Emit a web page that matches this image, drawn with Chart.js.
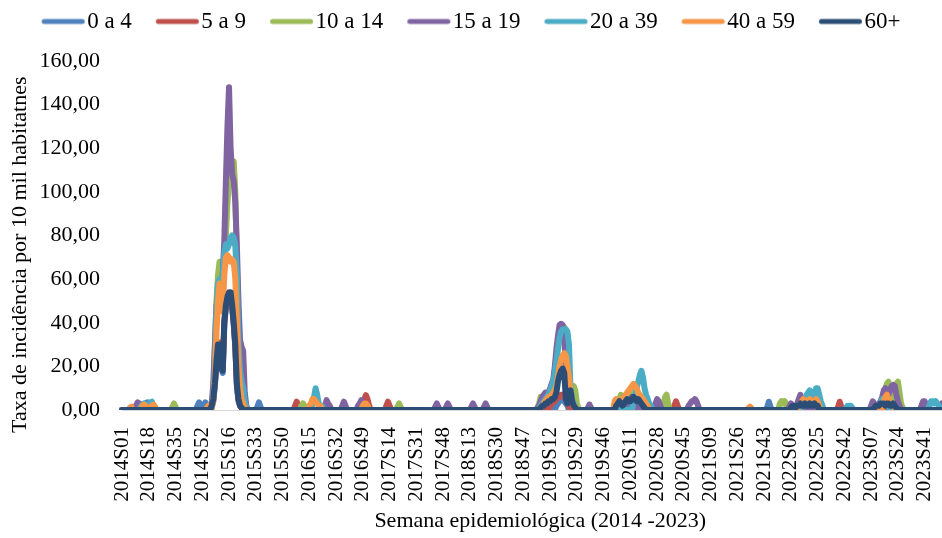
<!DOCTYPE html>
<html lang="pt">
<head>
<meta charset="utf-8">
<script src="https://cdn.jsdelivr.net/npm/chart.js@4.4.1/dist/chart.umd.min.js"></script>
<style>
  html, body { margin: 0; padding: 0; background: #fff; }
  #grafico { display: block; }
</style>
</head>
<body>
<canvas id="grafico" width="942" height="538"></canvas>
<script>
// anos e número de semanas epidemiológicas de cada ano
const anos = [2014, 2015, 2016, 2017, 2018, 2019, 2020, 2021, 2022, 2023];
const semanasPorAno = [53, 52, 52, 52, 52, 52, 53, 52, 52, 52];

// rótulos das faixas etárias (legenda)
const faixas = ['0 a 4', '5 a 9', '10 a 14', '15 a 19', '20 a 39', '40 a 59', '60+'];
const cores = ['#4F81BD', '#C0504D', '#9BBB59', '#8064A2', '#4BACC6', '#F79646', '#2C4D75'];

// taxas: [semana inicial, valores semanais consecutivos]; demais semanas = 0
const taxa0a4 = [
  ['2014S09', [1, 2, 2, 1]],
  ['2014S15', [2, 3, 3.5, 2]],
  ['2014S49', [2, 3.5, 2, 1, 2, 3.5, 2]],
  ['2015S05', [1, 4, 11, 21, 29, 29, 19, 17, 39, 47, 51, 53, 53, 47, 39, 29, 11, 4, 2, 1]],
  ['2015S34', [1.5, 3.5, 1.5]],
  ['2019S16', [2, 3, 4, 5, 5, 4, 3, 2]],
  ['2020S07', [1, 2, 3, 1]],
  ['2021S45', [1.5, 3.8, 1.5]],
];
const taxa5a9 = [
  ['2014S15', [1.5]],
  ['2015S05', [2, 5, 13, 23, 31, 31, 21, 19, 41, 48, 52, 53, 53, 47, 40, 29, 12, 5, 2, 1]],
  ['2016S06', [2, 3.8, 2]],
  ['2016S49', [3, 5, 6.8, 5, 2]],
  ['2017S12', [2, 3.8, 2]],
  ['2019S12', [2, 3, 4, 4, 5, 6, 6, 7, 7, 6, 5, 3, 2]],
  ['2020S39', [2, 4, 2]],
  ['2022S38', [1.5, 3.8, 1.5]],
];
const taxa10a14 = [
  ['2014S33', [1.5, 3, 1.5]],
  ['2015S06', [8, 28, 50, 62, 68, 68, 62, 66, 80, 95, 105, 108, 112, 114, 100, 65, 38, 22, 12, 5, 2]],
  ['2016S10', [2, 3, 2]],
  ['2017S19', [1.5, 3, 1.5]],
  ['2019S04', [1, 3, 6, 5, 5, 6, 5, 7, 8, 10, 12, 17, 24, 30, 34, 36, 38, 38, 33, 18, 11, 9, 7, 11, 9, 3, 1]],
  ['2020S04', [5, 7, 5, 4, 5, 6, 7, 8, 10, 9, 7, 5, 4, 3, 2]],
  ['2020S32', [2, 6, 7, 3]],
  ['2022S01', [3, 4, 3, 4, 3]],
  ['2023S13', [2, 3, 5, 9, 12, 13, 10, 6, 5, 8, 12, 13, 8, 3, 1]],
];
const taxa15a19 = [
  ['2014S10', [2, 3.5, 3, 2]],
  ['2014S19', [2, 3, 2]],
  ['2015S05', [3, 12, 30, 48, 50, 55, 55, 62, 78, 105, 130, 148, 120, 108, 105, 95, 75, 50, 32, 29, 27, 8, 2]],
  ['2016S25', [2, 4.5, 3, 2]],
  ['2016S36', [2, 3.8, 2]],
  ['2016S46', [2, 3, 4.5, 3]],
  ['2017S43', [1.5, 3, 1.5]],
  ['2017S50', [1.5, 3, 1.5]],
  ['2018S14', [1.5, 3, 1.5]],
  ['2018S22', [1.5, 3, 1.5]],
  ['2019S04', [1, 2, 4, 6, 7, 8, 7, 8, 10, 12, 14, 20, 28, 34, 39, 39.5, 39, 32, 22, 14, 8, 5, 3, 2, 1]],
  ['2019S36', [1, 2.5, 1]],
  ['2020S06', [3, 6, 4, 3, 4, 5, 6, 5, 4, 3]],
  ['2020S27', [3, 5, 4, 2]],
  ['2020S48', [2, 3, 4, 4, 5, 4, 2]],
  ['2022S07', [1.5, 3, 1.5]],
  ['2022S12', [3, 5, 7, 4, 2]],
  ['2023S07', [2, 4, 3, 2, 2, 3, 4, 6, 9, 10, 8, 7, 9, 11, 11.5, 11, 7, 4, 2]],
  ['2023S39', [2, 4, 4, 2]],
  ['2023S51', [2, 3]],
];
const taxa20a39 = [
  ['2014S13', [1.5, 2.5, 3, 2]],
  ['2014S18', [2, 3.5, 3.8, 2]],
  ['2015S05', [2, 6, 20, 45, 58, 60, 58, 62, 72, 76, 74, 76, 79, 80, 79, 75, 62, 30, 18, 13, 10, 4, 1]],
  ['2016S17', [3, 6, 10, 7, 3, 2, 2]],
  ['2019S06', [2, 3, 4, 5, 6, 7, 9, 11, 13, 17, 22, 28, 33, 36, 37, 37, 37, 36, 30, 10, 5, 3, 1]],
  ['2020S13', [4, 6, 10, 13, 16, 18, 15, 10, 7, 5, 3, 2]],
  ['2022S15', [2, 3, 5, 7, 8, 9, 7, 6, 8, 10, 10, 7, 4, 2]],
  ['2022S43', [1, 2, 2, 2, 1]],
  ['2023S12', [2, 3, 5, 5, 4, 3, 2]],
  ['2023S44', [2, 4, 4, 3, 4, 3, 2]],
];
const taxa40a59 = [
  ['2014S06', [1, 1.5]],
  ['2014S14', [2, 2.5, 2]],
  ['2014S20', [2, 2.5, 1.5]],
  ['2015S02', [1, 2, 1]],
  ['2015S05', [1, 4, 15, 35, 50, 58, 50, 45, 62, 70, 71, 70, 68, 69, 68, 60, 40, 20, 10, 5, 3, 1]],
  ['2016S15', [2, 3, 5, 5, 4, 3, 2, 2]],
  ['2016S49', [2, 3, 3, 2]],
  ['2019S06', [1, 2, 3, 4, 5, 6, 6, 7, 8, 9, 11, 15, 20, 23, 25, 26, 25, 20, 15, 8, 4, 2, 1]],
  ['2020S01', [4, 5, 4, 3, 4, 5, 6, 7, 8, 9, 10, 11, 12, 11, 10, 8, 7, 6, 5, 4, 3, 2]],
  ['2021S33', [0.8, 1.5, 0.8]],
  ['2022S13', [2, 3, 4, 5, 4, 3, 4, 5, 4, 3, 4, 5, 4, 2]],
  ['2023S15', [4, 6, 7, 5, 3, 2, 2, 1]],
];
const taxa60mais = [
  ['2015S05', [2, 5, 12, 22, 30, 30, 20, 18, 40, 48, 52, 54, 54, 48, 40, 30, 12, 5, 2, 1]],
  ['2019S06', [1, 2, 2, 3, 3, 4, 4, 5, 5, 6, 8, 13, 16, 18, 19, 17, 5, 3, 7, 9, 4, 2, 1]],
  ['2020S02', [2, 3, 4, 3, 2, 3, 4, 5, 4, 4, 5, 6, 5, 4, 5, 4, 3, 2, 1]],
  ['2022S08', [1, 2, 2, 1, 2, 2, 3, 2, 2, 3, 2, 2, 3, 2, 2, 3, 2, 2]],
  ['2023S09', [1, 2, 2, 2, 3, 3, 3, 2, 3, 3, 2, 2, 3, 2, 1]],
];

// rótulos do eixo x: 2014S01 ... 2023S52
const semanas = [];
anos.forEach((ano, i) => {
  for (let s = 1; s <= semanasPorAno[i]; s++) {
    semanas.push(ano + 'S' + String(s).padStart(2, '0'));
  }
});

// monta a série semanal completa a partir dos trechos lidos
function montarSerie(trechos) {
  const valores = new Array(semanas.length).fill(0);
  trechos.forEach(([inicio, lista]) => {
    const pos = semanas.indexOf(inicio);
    lista.forEach((v, i) => { valores[pos + i] = v; });
  });
  return valores;
}

// amostra de linha da legenda (encosta no texto como no original)
function linhaLegenda(cor) {
  const c = document.createElement('canvas');
  c.width = 54;
  c.height = 8;
  const g = c.getContext('2d');
  g.strokeStyle = cor;
  g.lineWidth = 5;
  g.lineCap = 'round';
  g.beginPath();
  g.moveTo(12.5, 4);
  g.lineTo(50.5, 4);
  g.stroke();
  return c;
}

const series = [taxa0a4, taxa5a9, taxa10a14, taxa15a19, taxa20a39, taxa40a59, taxa60mais];

const familia = '"Liberation Serif", "Times New Roman", serif';
const fonteLegenda = { family: familia, size: 23 };
const fonteTitulo = { family: familia, size: 22 };
const fonteTicks = { family: familia, size: 22 };
const fonteTicksX = { family: familia, size: 21 };

const datasets = series.map((trechos, i) => ({
  label: faixas[i],
  data: montarSerie(trechos),
  borderColor: cores[i],
  backgroundColor: cores[i],
  borderWidth: 6,
  borderJoinStyle: 'round',
  borderCapStyle: 'round',
  pointRadius: 0,
  pointStyle: linhaLegenda(cores[i]),
  tension: 0,
  fill: false,
  order: series.length - 1 - i, // 60+ desenhado por cima
}));

// espaço extra abaixo da legenda
const espacoLegenda = {
  id: 'espacoLegenda',
  beforeLayout(chart) {
    const legenda = chart.legend;
    if (legenda && !legenda._ajustada) {
      const fitOriginal = legenda.fit;
      legenda.fit = function () {
        fitOriginal.call(this);
        this.height += 18;
      };
      legenda._ajustada = true;
    }
  },
};

const ctx = document.getElementById('grafico').getContext('2d');
new Chart(ctx, {
  type: 'line',
  data: { labels: semanas, datasets: datasets },
  options: {
    responsive: false,
    animation: false,
    devicePixelRatio: 1,
    layout: { padding: { top: -14, right: 0, bottom: 0, left: 0 } },
    plugins: {
      legend: {
        position: 'top',
        labels: {
          usePointStyle: true,
          pointStyleWidth: 34,
          padding: 24,
          color: '#000',
          font: fonteLegenda,
          sort: (a, b) => a.datasetIndex - b.datasetIndex,
        },
      },
      tooltip: { enabled: false },
    },
    scales: {
      x: {
        grid: { display: false, drawTicks: false },
        border: { display: true, color: '#d9d9d9', width: 1 },
        ticks: {
          autoSkip: false,
          maxRotation: 90,
          minRotation: 90,
          padding: 17,
          color: '#000',
          font: fonteTicksX,
          callback: function (value, index) {
            return index % 17 === 0 ? this.getLabelForValue(value) : null;
          },
        },
        title: {
          display: true,
          text: '   Semana epidemiológica (2014 -2023)',
          color: '#000',
          font: fonteTitulo,
          padding: { top: 0, bottom: 4 },
        },
        afterFit: (escala) => {
          escala.height = 128;
          escala.paddingLeft = 0;
          escala.paddingRight = 0;
        },
      },
      y: {
        min: 0,
        max: 160,
        grid: { display: false, drawTicks: false },
        border: { display: false },
        ticks: {
          stepSize: 20,
          padding: 22,
          color: '#000',
          font: fonteTicks,
          callback: (v) => v.toFixed(2).replace('.', ','),
        },
        title: {
          display: true,
          text: 'Taxa de incidência por 10 mil habitatnes       ',
          color: '#000',
          font: fonteTitulo,
          padding: { top: 7, bottom: 4 },
        },
        afterFit: (escala) => { escala.width = 122; },
      },
    },
  },
  plugins: [espacoLegenda],
});
</script>
</body>
</html>
